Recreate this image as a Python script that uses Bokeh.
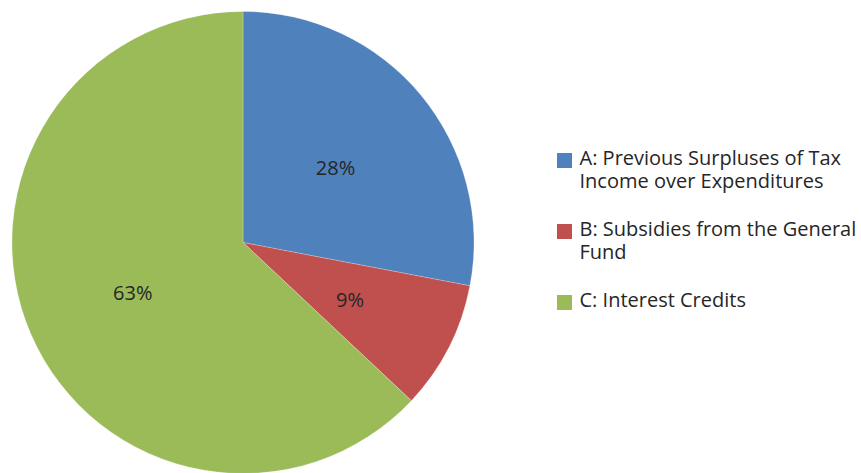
import numpy as np
from bokeh.plotting import figure
from bokeh.models import Range1d
from bokeh.core.properties import value
from bokeh.embed import file_html
from bokeh.resources import INLINE

# ---- data ----
categories = [
    "A: Previous Surpluses of Tax\nIncome over Expenditures",
    "B: Subsidies from the General\nFund",
    "C: Interest Credits",
]
shares = [28, 9, 63]
colors = ["#4F81BD", "#C0504D", "#9BBB59"]

W, H = 861, 473
FONT = "Open Sans"
TEXT_COLOR = "#262626"
FS = "20px"

p = figure(width=W, height=H, x_range=Range1d(0, W), y_range=Range1d(0, H),
           output_backend="svg", toolbar_location=None, min_border=0,
           x_axis_location=None, y_axis_location=None)
p.grid.visible = False
p.outline_line_color = None
p.background_fill_color = "white"
p.border_fill_color = "white"

# ---- pie ----
cx, cy, R = 242.5, H - 242, 231
frac = np.array(shares, dtype=float) / sum(shares)
cum = np.concatenate([[0], np.cumsum(frac)])
start = np.pi / 2 - cum[:-1] * 2 * np.pi
end = np.pi / 2 - cum[1:] * 2 * np.pi
p.wedge(x=cx, y=cy, radius=R, radius_units="screen", start_angle=list(start),
        end_angle=list(end), direction="clock", fill_color=colors,
        line_color="white", line_width=0.4, line_alpha=0.6)

mid = np.pi / 2 - (cum[:-1] + frac / 2) * 2 * np.pi
lr = 0.52 * R
p.text(x=list(cx + lr * np.cos(mid)), y=list(cy + lr * np.sin(mid) - 2),
       text=[f"{s}%" for s in shares], text_align="center", text_baseline="middle",
       text_font=value(FONT), text_font_size=FS, text_color=TEXT_COLOR)

# ---- legend ----
sq_x, txt_x = 564, 579
first_base, block_step, line_step, sq = 157, 71, 23, 15
lx, ly, lt = [], [], []
sqy = []
for i, cat in enumerate(categories):
    base = first_base + i * block_step
    sqy.append(H - (base + 3))
    for j, line in enumerate(cat.split("\n")):
        lx.append(txt_x)
        ly.append(H - (base + j * line_step))
        lt.append(line)
p.rect(x=[sq_x] * len(categories), y=sqy, width=sq, height=sq,
       width_units="screen", height_units="screen", fill_color=colors, line_color=None)
p.text(x=lx, y=ly, text=lt, text_align="left", text_baseline="alphabetic",
       text_font=value(FONT), text_font_size=FS, text_color=TEXT_COLOR)

open("out.html", "w").write(file_html(p, INLINE))
